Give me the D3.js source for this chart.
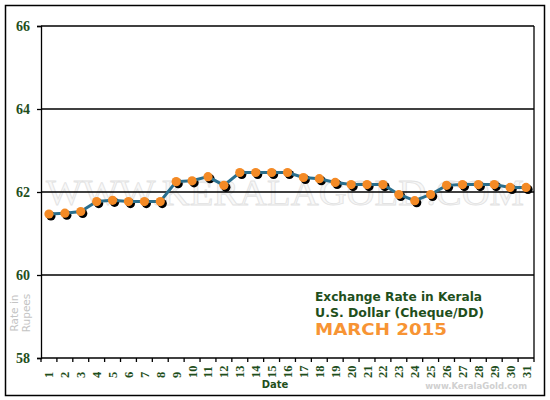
<!DOCTYPE html>
<html lang="en"><head>
<meta charset="utf-8">
<title>Exchange Rate in Kerala</title>
<script src="https://cdnjs.cloudflare.com/ajax/libs/d3/7.8.5/d3.min.js"></script>
<style>
  body { margin: 0; background: #fff; }
  svg { display: block; }
</style>
</head>
<body>
<svg id="chart" width="550" height="400"></svg>
<script type="text/javascript">

// data
var days = d3.range(1, 32);
var rates = [61.47, 61.49, 61.53, 61.77, 61.80, 61.77, 61.77, 61.77, 62.25, 62.27,
             62.37, 62.16, 62.47, 62.47, 62.47, 62.47, 62.35, 62.32, 62.23, 62.18,
             62.18, 62.18, 61.94, 61.79, 61.94, 62.16, 62.18, 62.18, 62.18, 62.11,
             62.11];
var yTicks = [58, 60, 62, 64, 66];

var green = "#1f4f1c";
var svg = d3.select("#chart");

// outer frame
svg.append("rect")
  .attr("x", 5.5).attr("y", 5.5).attr("width", 539).attr("height", 390)
  .attr("fill", "#fff").attr("stroke", "#000").attr("stroke-width", 1.5);

var x = d3.scaleBand().domain(days).range([41, 534]);
var y = d3.scaleLinear().domain([58, 66]).range([358, 26]);

// watermark
svg.append("text")
  .attr("x", 46).attr("y", 205)
  .attr("textLength", 478).attr("lengthAdjust", "spacingAndGlyphs")
  .attr("font-family", "Liberation Serif").attr("font-size", 36)
  .attr("fill", "#f8f8f8").attr("stroke", "#e2e2e2").attr("stroke-width", 0.8)
  .text("WWW.KERALAGOLD.COM");

// grid lines
svg.append("g").selectAll("line")
  .data(yTicks.slice(1))
  .enter().append("line")
  .attr("x1", 41).attr("x2", 534)
  .attr("y1", function(d) { return y(d); })
  .attr("y2", function(d) { return y(d); })
  .attr("stroke", "#000").attr("stroke-width", 1.3);

// right edge of plot
svg.append("line")
  .attr("x1", 534).attr("x2", 534).attr("y1", y(66)).attr("y2", y(58))
  .attr("stroke", "#000").attr("stroke-width", 1.3);

// y axis
var yAxis = svg.append("g")
  .attr("transform", "translate(41,0)")
  .call(d3.axisLeft(y).tickValues(yTicks).tickSize(4).tickPadding(7));
yAxis.select(".domain").attr("stroke-width", 1.3);
yAxis.selectAll(".tick line").attr("stroke-width", 1.3);
yAxis.selectAll("text")
  .attr("font-family", "Liberation Serif").attr("font-weight", "bold")
  .attr("font-size", 14).attr("fill", green);

// x axis: ticks on band edges, labels rotated
var xAxis = svg.append("g").attr("transform", "translate(0,358)");
xAxis.append("line")
  .attr("x1", 41).attr("x2", 534)
  .attr("stroke", "#000").attr("stroke-width", 1.3);
xAxis.selectAll("line.edge")
  .data(days.concat([32]))
  .enter().append("line").attr("class", "edge")
  .attr("x1", function(d) { return d == 32 ? x(31) + x.bandwidth() : x(d); })
  .attr("x2", function(d) { return d == 32 ? x(31) + x.bandwidth() : x(d); })
  .attr("y1", 0).attr("y2", 4)
  .attr("stroke", "#000").attr("stroke-width", 1.3);
xAxis.selectAll("text")
  .data(days)
  .enter().append("text")
  .attr("transform", function(d) {
    return "translate(" + (x(d) + x.bandwidth() / 2 + 4.5) + ",20) rotate(-90)";
  })
  .attr("text-anchor", "start")
  .attr("font-family", "Liberation Serif").attr("font-weight", "bold")
  .attr("font-size", 12.5).attr("fill", green)
  .text(function(d) { return d; });

// series
var pts = days.map(function(d, i) {
  return { day: d, rate: rates[i] };
});
var cx = function(d) { return x(d.day) + x.bandwidth() / 2; };
var cy = function(d) { return y(d.rate); };

svg.append("g").selectAll("circle")
  .data(pts)
  .enter().append("circle")
  .attr("cx", function(d) { return cx(d) + 2; })
  .attr("cy", function(d) { return cy(d) + 2; })
  .attr("r", 4.6).attr("fill", "#000");

svg.append("path")
  .datum(pts)
  .attr("fill", "none").attr("stroke", "#2a6f8e").attr("stroke-width", 3)
  .attr("d", d3.line().x(cx).y(cy));

svg.append("g").selectAll("circle")
  .data(pts)
  .enter().append("circle")
  .attr("cx", cx).attr("cy", cy)
  .attr("r", 4.6).attr("fill", "#f48a25");

// axis titles
svg.append("text")
  .attr("x", 275).attr("y", 388).attr("text-anchor", "middle")
  .attr("font-family", "DejaVu Sans").attr("font-weight", "bold")
  .attr("font-size", 10).attr("fill", green)
  .text("Date");

var rt = svg.append("text")
  .attr("transform", "translate(21,313) rotate(-90)")
  .attr("text-anchor", "middle")
  .attr("font-family", "DejaVu Sans").attr("font-size", 10.5).attr("fill", "#c4c4c4");
rt.append("tspan").attr("x", 0).attr("dy", -3).text("Rate in");
rt.append("tspan").attr("x", 0).attr("dy", 11.5).text("Rupees");

// caption
svg.append("text")
  .attr("x", 315).attr("y", 301)
  .attr("textLength", 167).attr("lengthAdjust", "spacingAndGlyphs")
  .attr("font-family", "DejaVu Sans").attr("font-weight", "bold")
  .attr("font-size", 11.5).attr("fill", green)
  .text("Exchange Rate in Kerala");
svg.append("text")
  .attr("x", 315).attr("y", 317)
  .attr("textLength", 169).attr("lengthAdjust", "spacingAndGlyphs")
  .attr("font-family", "DejaVu Sans").attr("font-weight", "bold")
  .attr("font-size", 11.5).attr("fill", green)
  .text("U.S. Dollar (Cheque/DD)");
svg.append("text")
  .attr("x", 315).attr("y", 335)
  .attr("textLength", 132).attr("lengthAdjust", "spacingAndGlyphs")
  .attr("font-family", "DejaVu Sans").attr("font-weight", "bold")
  .attr("font-size", 16.5).attr("fill", "#f79434")
  .text("MARCH 2015");

svg.append("text")
  .attr("x", 527).attr("y", 389).attr("text-anchor", "end")
  .attr("font-family", "DejaVu Sans").attr("font-weight", "bold")
  .attr("font-size", 8.5).attr("fill", "#d0d0d0")
  .text("www.KeralaGold.com");

</script>
</body></html>
